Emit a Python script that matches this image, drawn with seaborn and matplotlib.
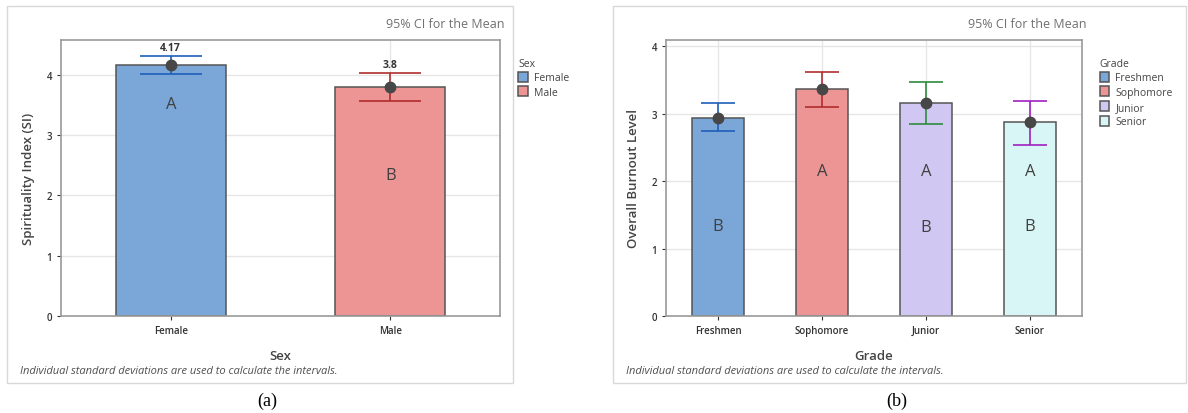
import matplotlib
matplotlib.use("Agg")
import matplotlib.pyplot as plt
from matplotlib.patches import Rectangle
import numpy as np
import pandas as pd
import seaborn as sns

# panel (a): spirituality index by sex
sex = ["Female", "Male"]
si_mean = [4.17, 3.80]
si_lo = [4.02, 3.56]
si_hi = [4.32, 4.04]
si_letters = [["A"], ["B"]]
si_letter_y = [[3.52], [2.34]]
sex_colors = ["#7BA6D8", "#EC9594"]
sex_err = ["#1F5FB8", "#B02D2D"]

# panel (b): burnout by grade
grade = ["Freshmen", "Sophomore", "Junior", "Senior"]
bo_mean = [2.94, 3.37, 3.16, 2.87]
bo_lo = [2.74, 3.10, 2.85, 2.54]
bo_hi = [3.15, 3.62, 3.47, 3.19]
bo_letters = [["B"], ["A"], ["A", "B"], ["A", "B"]]
bo_letter_y = [[1.34], [2.15], [2.15, 1.32], [2.15, 1.34]]
grade_colors = ["#7BA6D8", "#EC9594", "#D0C8F2", "#D9F6F6"]
grade_err = ["#1F5FB8", "#B02D2D", "#2E8B3E", "#A020C0"]

FONT = ["Open Sans", "DejaVu Sans"]


def panel(fig, rect, cats, means, lo, hi, colors, errc, letters, letter_y,
          xlabel, ylabel, ylim, capsize, show_vals, leg_anchor):
    ax = fig.add_axes(rect)
    df = pd.DataFrame({xlabel: cats, "value": means})
    sns.barplot(data=df, x=xlabel, y="value", hue=xlabel, palette=colors,
                saturation=1, width=0.5, edgecolor="#555555", linewidth=1.1,
                legend=True, errorbar=None, ax=ax, zorder=2)
    ax.set_axisbelow(True)
    for i in range(len(cats)):
        ax.errorbar(i, means[i], yerr=[[means[i] - lo[i]], [hi[i] - means[i]]],
                    fmt="none", ecolor=errc[i], elinewidth=1.2, capsize=capsize,
                    capthick=1.2, zorder=3)
        ax.plot(i, means[i], "o", color="#474747", ms=7.5, zorder=4)
        for t, yy in zip(letters[i], letter_y[i]):
            ax.text(i, yy, t, ha="center", va="center", fontsize=12,
                    color="#404040", family=FONT)
        if show_vals:
            ax.text(i, hi[i] + 0.04, f"{means[i]:g}", ha="center", va="bottom",
                    fontsize=7.5, fontweight="bold", color="#333333", family=FONT)
    ax.set_xlim(-0.5, len(cats) - 0.5)
    ax.set_ylim(*ylim)
    ax.set_yticks(range(0, 5))
    ax.grid(True, color="#E6E6E6", lw=1)
    for s in ax.spines.values():
        s.set_color("#9A9A9A")
        s.set_linewidth(1.2)
    ax.tick_params(labelsize=7, colors="#333333", length=3, width=0.8)
    for lab in ax.get_xticklabels() + ax.get_yticklabels():
        lab.set_family(FONT)
        lab.set_fontweight("semibold")
    ax.set_xlabel(xlabel, fontsize=9.5, color="#444444", family=FONT,
                  fontweight="semibold", labelpad=9)
    ax.set_ylabel(ylabel, fontsize=9.5, color="#444444", family=FONT,
                  fontweight="semibold", labelpad=8)
    ax.text(1.01, 1.035, "95% CI for the Mean", transform=ax.transAxes,
            ha="right", va="bottom", fontsize=9, color="#707070", family=FONT)
    sns.move_legend(ax, "upper left", bbox_to_anchor=leg_anchor, frameon=False,
                    title=xlabel, fontsize=7.5, title_fontsize=7.5,
                    handlelength=0.9, handleheight=1.1, handletextpad=0.6,
                    labelspacing=0.3, alignment="left")
    leg = ax.get_legend()
    for h in leg.legend_handles:
        h.set_edgecolor("#555555")
    for t in leg.get_texts() + [leg.get_title()]:
        t.set_color("#444444")
        t.set_family(FONT)
    return ax


fig = plt.figure(figsize=(11.88, 4.14), dpi=100)

panel(fig, [61 / 1188, 97 / 414, 439 / 1188, 276 / 414], sex, si_mean, si_lo,
      si_hi, sex_colors, sex_err, si_letters, si_letter_y, "Sex",
      "Spirituality Index (SI)", (0, 4.58), 22, True, (1.02, 0.97))
panel(fig, [666 / 1188, 97 / 414, 416 / 1188, 276 / 414], grade, bo_mean,
      bo_lo, bo_hi, grade_colors, grade_err, bo_letters, bo_letter_y, "Grade",
      "Overall Burnout Level", (0, 4.09), 12, False, (1.02, 0.97))

# outer frames, footnotes and captions
for x0, x1, cap, cx in [(7, 513, "(a)", 267), (613, 1186, "(b)", 897)]:
    fig.patches.append(Rectangle((x0 / 1188, 1 - 384 / 414), (x1 - x0) / 1188,
                                 377 / 414, transform=fig.transFigure,
                                 fill=False, edgecolor="#D8D8D8", lw=1))
    fig.text((x0 + 13) / 1188, 1 - 372 / 414,
             "Individual standard deviations are used to calculate the intervals.",
             fontsize=8, style="italic", color="#505050", family=FONT,
             va="center")
    fig.text(cx / 1188, 1 - 401 / 414, cap, ha="center", va="center",
             fontsize=13, family=["Liberation Serif", "DejaVu Serif"])

fig.savefig("out.png", dpi=100)
